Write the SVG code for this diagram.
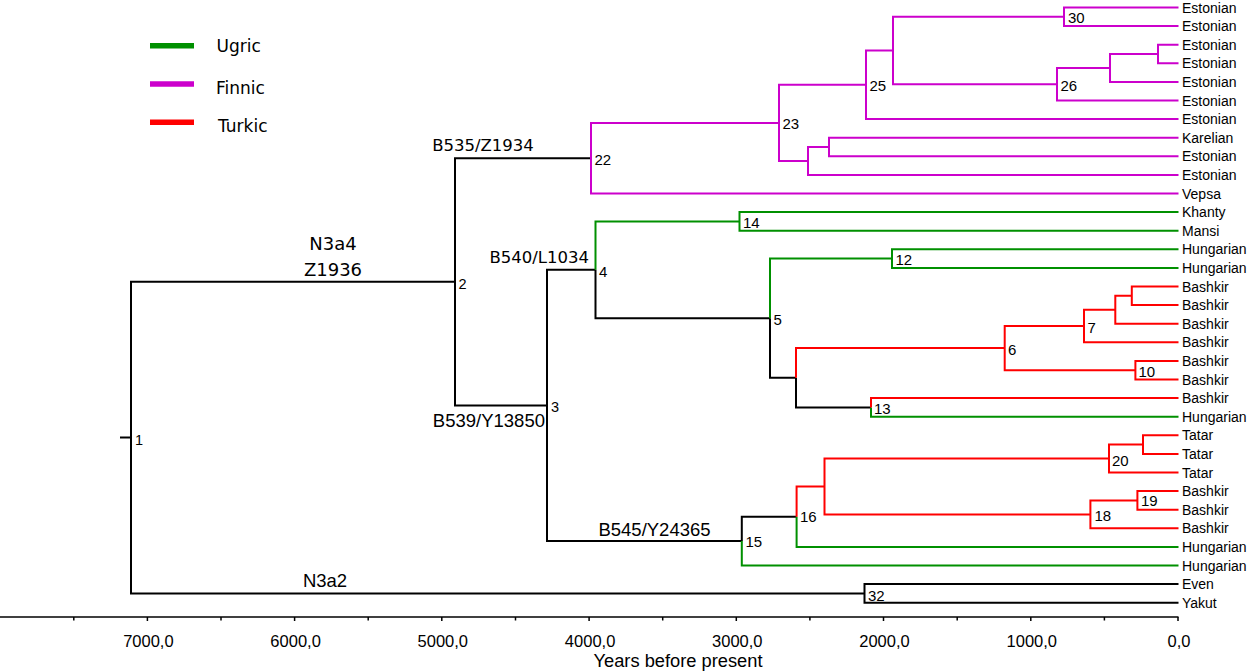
<svg xmlns="http://www.w3.org/2000/svg" width="1249" height="672" viewBox="0 0 1249 672">
<style>
.b{fill:none;stroke-width:2;stroke-linejoin:miter}
.k{stroke:#000}
.g{stroke:#009000}
.r{stroke:#ff0000}
.m{stroke:#cc00cc}
.leaf{font-family:"Liberation Sans",Arial,sans-serif;font-size:14px;fill:#000}
.nl{font-family:"Liberation Sans",Arial,sans-serif;font-size:15px;fill:#000}
.ns{font-family:"Liberation Sans",Arial,sans-serif;font-size:14.5px;fill:#000}
.bl{font-family:"Liberation Sans",Arial,sans-serif;font-size:18.5px;fill:#000}
.dv{font-family:"DejaVu Sans",Verdana,sans-serif;fill:#000}
.ax{font-family:"Liberation Sans",Arial,sans-serif;font-size:16.5px;fill:#000;text-anchor:middle}
.tick{stroke:#000;stroke-width:1.5}
</style>
<rect width="1249" height="672" fill="#fff"/>
<g id="legend">
<line x1="150" y1="45.7" x2="194" y2="45.7" stroke="#009000" stroke-width="5.5"/>
<line x1="150" y1="84" x2="194" y2="84" stroke="#cc00cc" stroke-width="5.5"/>
<line x1="150" y1="122.3" x2="194" y2="122.3" stroke="#ff0000" stroke-width="5.5"/>
<text class="dv" x="216.5" y="51.5" font-size="17">Ugric</text>
<text class="dv" x="216" y="93.5" font-size="17">Finnic</text>
<text class="dv" x="218" y="132" font-size="17">Turkic</text>
</g>
<g id="connectors">
<path class="b k" d="M120,437.6 H131 M131,437.6 V281.8 H455 M131,437.6 V593.4 H864.5 M864.5,593.4 V584.1 H1178.5 M864.5,593.4 V602.7 H1178.5 M455,281.8 V158.2 H591 M455,281.8 V405.5 H547 M547,405.5 V269.8 H595.5 M547,405.5 V541.1 H741.8 M595.5,269.8 V318.2 H770 M770,318.2 V377.8 H796 M796,377.8 V407.4 H871 M741.8,541.1 V516.7 H796.6"/>
<path class="b g" d="M595.5,269.8 V221.4 H739.5 M739.5,221.4 V212.1 H1178.5 M739.5,221.4 V230.7 H1178.5 M770,318.2 V258.6 H892 M892,258.6 V249.3 H1178.5 M892,258.6 V267.9 H1178.5 M871,407.4 V416.7 H1178.5 M741.8,541.1 V565.5 H1178.5 M796.6,516.7 V546.9 H1178.5"/>
<path class="b r" d="M796,377.8 V348.1 H1004.7 M1004.7,348.1 V326 H1084 M1004.7,348.1 V370.2 H1135.4 M1084,326 V309.8 H1115.3 M1084,326 V342.3 H1178.5 M1115.3,309.8 V295.8 H1131.8 M1115.3,309.8 V323.7 H1178.5 M1131.8,295.8 V286.5 H1178.5 M1131.8,295.8 V305.1 H1178.5 M1135.4,370.2 V360.9 H1178.5 M1135.4,370.2 V379.5 H1178.5 M871,407.4 V398.1 H1178.5 M796.6,516.7 V486.5 H824.5 M824.5,486.5 V458.6 H1109 M824.5,486.5 V514.4 H1090.4 M1109,458.6 V444.6 H1143 M1109,458.6 V472.5 H1178.5 M1143,444.6 V435.3 H1178.5 M1143,444.6 V453.9 H1178.5 M1090.4,514.4 V500.4 H1137.4 M1090.4,514.4 V528.3 H1178.5 M1137.4,500.4 V491.1 H1178.5 M1137.4,500.4 V509.7 H1178.5"/>
<path class="b m" d="M591,158.2 V122.9 H779 M591,158.2 V193.5 H1178.5 M779,122.9 V84.8 H866 M779,122.9 V161 H808 M866,84.8 V50.5 H893 M866,84.8 V119.1 H1178.5 M893,50.5 V16.8 H1064 M893,50.5 V84.2 H1057 M1064,16.8 V7.5 H1178.5 M1064,16.8 V26.1 H1178.5 M1057,84.2 V68 H1110 M1057,84.2 V100.5 H1178.5 M1110,68 V54 H1158 M1110,68 V81.9 H1178.5 M1158,54 V44.7 H1178.5 M1158,54 V63.3 H1178.5 M808,161 V147 H829 M808,161 V174.9 H1178.5 M829,147 V137.7 H1178.5 M829,147 V156.3 H1178.5"/>
</g>
<g id="branch-labels">
<text class="dv" x="333" y="250" font-size="18" text-anchor="middle">N3a4</text>
<text class="dv" x="333" y="276" font-size="18" text-anchor="middle">Z1936</text>
<text class="dv" x="483" y="151" font-size="16.5" text-anchor="middle">B535/Z1934</text>
<text class="dv" x="589" y="263.3" font-size="16.5" text-anchor="end">B540/L1034</text>
<text class="bl" x="545" y="427.3" text-anchor="end">B539/Y13850</text>
<text class="bl" x="654.5" y="536" text-anchor="middle">B545/Y24365</text>
<text class="bl" x="325" y="587.3" text-anchor="middle">N3a2</text>
</g>
<g id="node-1"><text class="ns" x="135" y="444.5">1</text></g>
<g id="node-2"><text class="ns" x="458.5" y="288.5">2</text></g>
<g id="node-3"><text class="ns" x="551" y="412">3</text></g>
<g id="node-4"><text class="nl" x="599" y="277">4</text></g>
<g id="node-5"><text class="nl" x="773.5" y="325">5</text></g>
<g id="node-6"><text class="nl" x="1008" y="355">6</text></g>
<g id="node-7"><text class="nl" x="1087.5" y="333">7</text></g>
<g id="node-10"><text class="nl" x="1138.5" y="377">10</text></g>
<g id="node-12"><text class="nl" x="895.5" y="265">12</text></g>
<g id="node-13"><text class="nl" x="874" y="414">13</text></g>
<g id="node-14"><text class="nl" x="743" y="228">14</text></g>
<g id="node-15"><text class="nl" x="745.5" y="547">15</text></g>
<g id="node-16"><text class="nl" x="800" y="522">16</text></g>
<g id="node-18"><text class="nl" x="1094.5" y="520.5">18</text></g>
<g id="node-19"><text class="nl" x="1141" y="505.5">19</text></g>
<g id="node-20"><text class="nl" x="1112" y="465.5">20</text></g>
<g id="node-22"><text class="nl" x="594.5" y="164.5">22</text></g>
<g id="node-23"><text class="nl" x="782.5" y="128.5">23</text></g>
<g id="node-25"><text class="nl" x="869.5" y="91">25</text></g>
<g id="node-26"><text class="nl" x="1060.5" y="91">26</text></g>
<g id="node-30"><text class="nl" x="1068" y="23">30</text></g>
<g id="node-32"><text class="nl" x="868" y="601">32</text></g>
<g id="leaves">
<g id="leaf-0"><text class="leaf" x="1182" y="12.5">Estonian</text></g>
<g id="leaf-1"><text class="leaf" x="1182" y="31.1">Estonian</text></g>
<g id="leaf-2"><text class="leaf" x="1182" y="49.7">Estonian</text></g>
<g id="leaf-3"><text class="leaf" x="1182" y="68.3">Estonian</text></g>
<g id="leaf-4"><text class="leaf" x="1182" y="86.9">Estonian</text></g>
<g id="leaf-5"><text class="leaf" x="1182" y="105.5">Estonian</text></g>
<g id="leaf-6"><text class="leaf" x="1182" y="124.1">Estonian</text></g>
<g id="leaf-7"><text class="leaf" x="1182" y="142.7">Karelian</text></g>
<g id="leaf-8"><text class="leaf" x="1182" y="161.3">Estonian</text></g>
<g id="leaf-9"><text class="leaf" x="1182" y="179.9">Estonian</text></g>
<g id="leaf-10"><text class="leaf" x="1182" y="198.5">Vepsa</text></g>
<g id="leaf-11"><text class="leaf" x="1182" y="217.1">Khanty</text></g>
<g id="leaf-12"><text class="leaf" x="1182" y="235.7">Mansi</text></g>
<g id="leaf-13"><text class="leaf" x="1182" y="254.3">Hungarian</text></g>
<g id="leaf-14"><text class="leaf" x="1182" y="272.9">Hungarian</text></g>
<g id="leaf-15"><text class="leaf" x="1182" y="291.5">Bashkir</text></g>
<g id="leaf-16"><text class="leaf" x="1182" y="310.1">Bashkir</text></g>
<g id="leaf-17"><text class="leaf" x="1182" y="328.7">Bashkir</text></g>
<g id="leaf-18"><text class="leaf" x="1182" y="347.3">Bashkir</text></g>
<g id="leaf-19"><text class="leaf" x="1182" y="365.9">Bashkir</text></g>
<g id="leaf-20"><text class="leaf" x="1182" y="384.5">Bashkir</text></g>
<g id="leaf-21"><text class="leaf" x="1182" y="403.1">Bashkir</text></g>
<g id="leaf-22"><text class="leaf" x="1182" y="421.7">Hungarian</text></g>
<g id="leaf-23"><text class="leaf" x="1182" y="440.3">Tatar</text></g>
<g id="leaf-24"><text class="leaf" x="1182" y="458.9">Tatar</text></g>
<g id="leaf-25"><text class="leaf" x="1182" y="477.5">Tatar</text></g>
<g id="leaf-26"><text class="leaf" x="1182" y="496.1">Bashkir</text></g>
<g id="leaf-27"><text class="leaf" x="1182" y="514.7">Bashkir</text></g>
<g id="leaf-28"><text class="leaf" x="1182" y="533.3">Bashkir</text></g>
<g id="leaf-29"><text class="leaf" x="1182" y="551.9">Hungarian</text></g>
<g id="leaf-30"><text class="leaf" x="1182" y="570.5">Hungarian</text></g>
<g id="leaf-31"><text class="leaf" x="1182" y="589.1">Even</text></g>
<g id="leaf-32"><text class="leaf" x="1182" y="607.7">Yakut</text></g>
</g>
<g id="axis">
<line x1="0" y1="617" x2="1178.5" y2="617" stroke="#000" stroke-width="1.7"/>
<path class="tick" d="M73.8,617v3.5 M147.4,617v4 M221,617v3.5 M294.6,617v4 M368.2,617v3.5 M441.8,617v4 M515.5,617v3.5 M589.1,617v4 M662.7,617v3.5 M736.3,617v4 M809.9,617v3.5 M883.5,617v4 M957.2,617v3.5 M1030.8,617v4 M1104.4,617v3.5 M1178,617v4"/>
<text class="ax" x="148.4" y="646.7">7000,0</text>
<text class="ax" x="295.6" y="646.7">6000,0</text>
<text class="ax" x="442.8" y="646.7">5000,0</text>
<text class="ax" x="590.1" y="646.7">4000,0</text>
<text class="ax" x="737.3" y="646.7">3000,0</text>
<text class="ax" x="884.5" y="646.7">2000,0</text>
<text class="ax" x="1031.8" y="646.7">1000,0</text>
<text class="ax" x="1179" y="646.7">0,0</text>
<text x="678" y="667" font-family="Liberation Sans, Arial, sans-serif" font-size="18.3" text-anchor="middle">Years before present</text>
</g>
</svg>
